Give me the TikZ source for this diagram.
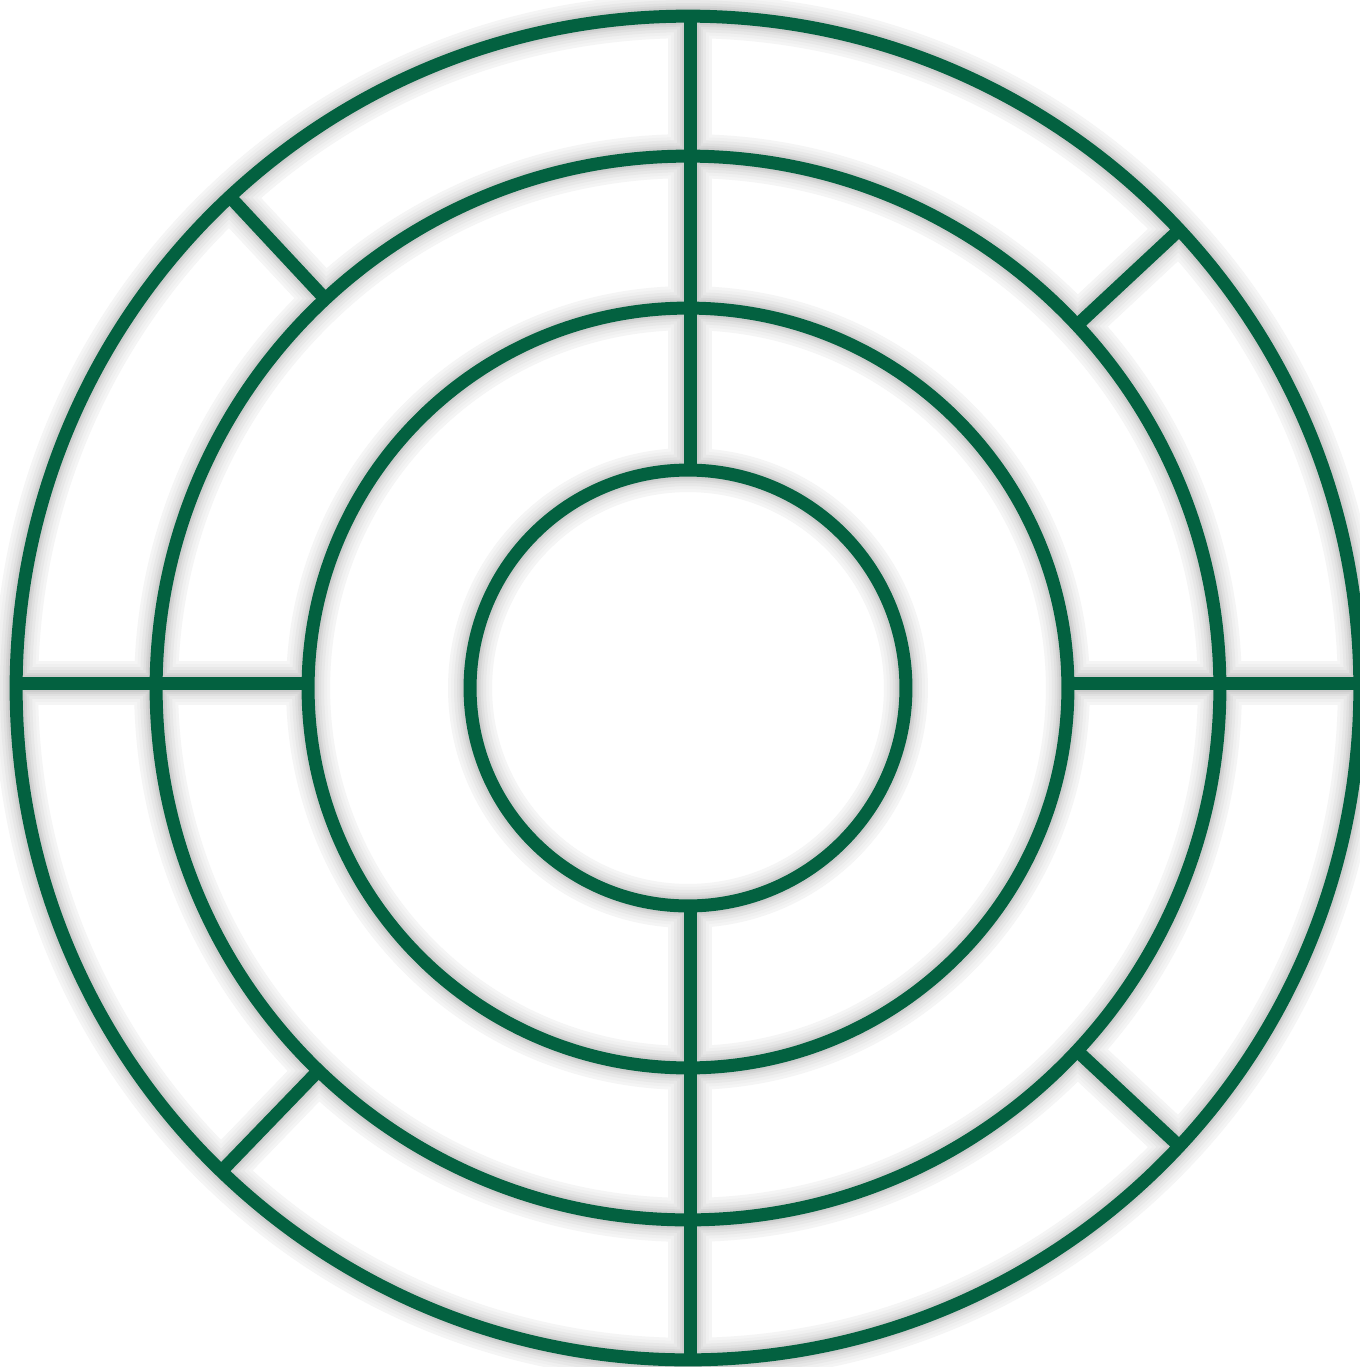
\documentclass[tikz,border=0pt]{standalone}
\usetikzlibrary{calc}
\definecolor{ringgreen}{RGB}{3,97,64}
\newcommand\ringfigure{%
  \draw (C) circle[radius=13.44cm];
  \draw (C) circle[radius=10.64cm];
  \draw (C) circle[radius=7.60cm];
  \draw (C) circle[radius=4.36cm];
  \draw (vt1) -- (vt2);
  \draw (vb1) -- (vb2);
  \draw (hl1) -- (hl2);
  \draw (hr1) -- (hr2);
  \foreach \a in {43,134,227,317}{
    \draw ($(C)+(\a:532)$) -- ($(C)+(\a:672)$);
  }%
}
\begin{document}
\begin{tikzpicture}[x=0.02cm,y=-0.02cm]
\useasboundingbox (0,0) rectangle (1360,1367);
\fill[white] (0,0) rectangle (1360,1367);
\coordinate (C) at (688,688);
\coordinate (vt1) at (690,16);
\coordinate (vt2) at (690,470);
\coordinate (vb1) at (690,906);
\coordinate (vb2) at (690,1360);
\coordinate (hl1) at (16,683);
\coordinate (hl2) at (310,683);
\coordinate (hr1) at (1069,683);
\coordinate (hr2) at (1360,683);
% soft shadow
\foreach \w/\c in {44/4,38/6,32/9,26/12,21/16,17/20}{
  \begin{scope}[shift={(7,9)},line width=\w*0.02cm,draw=black!\c]
    \ringfigure
  \end{scope}
}
% rings
\begin{scope}[draw=ringgreen,line width=0.26cm]
  \ringfigure
\end{scope}
\end{tikzpicture}
\end{document}
